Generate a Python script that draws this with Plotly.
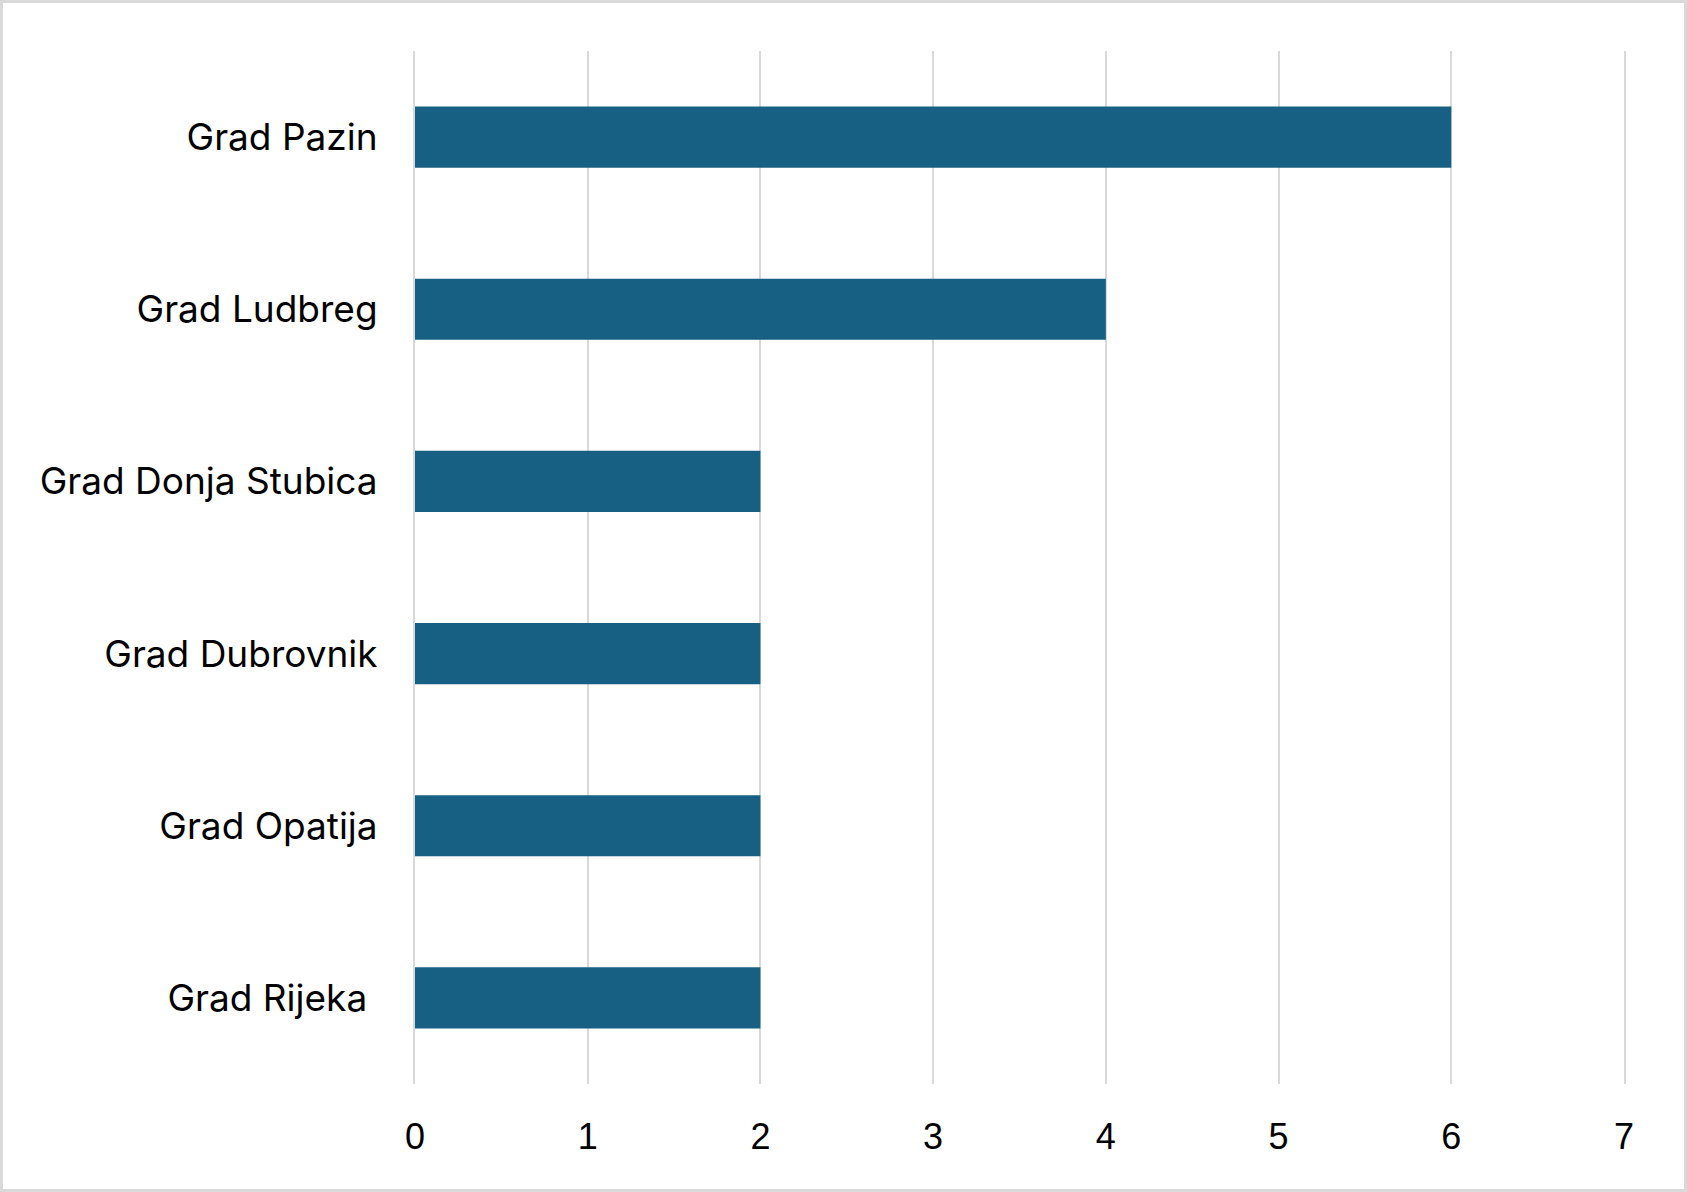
import plotly.graph_objects as go

categories = ["Grad Pazin", "Grad Ludbreg", "Grad Donja Stubica", "Grad Dubrovnik", "Grad Opatija", "Grad Rijeka\u00a0"]
values = [6, 4, 2, 2, 2, 2]
x_ticks = [0, 1, 2, 3, 4, 5, 6, 7]

W, H = 1687, 1192
ml, mr, mt, mb = 415, 63, 51, 108
pw, ph = W - ml - mr, H - mt - mb

fig = go.Figure(go.Bar(
    y=categories, x=values, orientation="h",
    marker=dict(color="#176083", line=dict(width=0)),
))
fig.update_layout(
    width=W, height=H,
    margin=dict(l=ml, r=mr, t=mt, b=mb),
    paper_bgcolor="white", plot_bgcolor="white",
    bargap=0.645, showlegend=False,
    xaxis=dict(range=[0, 7], tickvals=x_ticks, showgrid=True, gridcolor="#d9d9d9", gridwidth=2,
               zeroline=False, showline=False, ticks="",
               tickfont=dict(family="Liberation Sans, Arial", size=36, color="#000000"),
               ticklabelstandoff=28),
    yaxis=dict(autorange="reversed", showgrid=False, zeroline=False,
               showline=True, mirror=True, linecolor="#d9d9d9", linewidth=2, ticks="",
               tickfont=dict(family="Inter, Lato, sans-serif", size=37, color="#000000"),
               ticklabelstandoff=28),
    shapes=[dict(type="rect", xref="paper", yref="paper",
                 x0=(1.5 - ml) / pw, x1=(W - 1.5 - ml) / pw,
                 y0=-(mb - 1.5) / ph,
                 y1=1 + (mt - 1.5) / ph,
                 line=dict(color="#d9d9d9", width=3), fillcolor="rgba(0,0,0,0)", layer="below")],
)
fig.write_html("out.html", config={"displayModeBar": False},
               post_script="document.body.style.margin='0';document.body.style.padding='0';")
